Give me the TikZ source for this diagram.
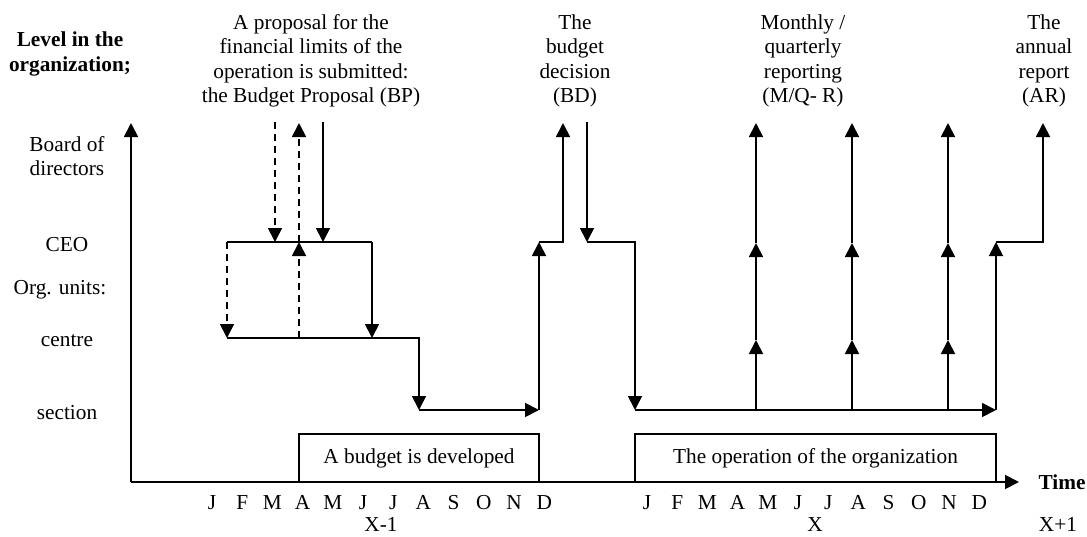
\documentclass[tikz,border=0pt]{standalone}
\usepackage{fontspec}
\setmainfont{Liberation Serif}
\usetikzlibrary{arrows.meta}
\begin{document}
\begin{tikzpicture}[x=1pt,y=-1pt,
  line width=1.8pt,
  tipped/.style={-{Triangle[length=14pt,width=14pt]}},
  flow/.style={draw, tipped},
  dflow/.style={draw, tipped, dash pattern=on 7pt off 5pt},
  plain/.style={draw},
  txt/.style={inner sep=0pt, align=center, font=\fontsize{21.3}{24.5}\selectfont},
  word/.style={inner sep=0pt, font=\fontsize{21.3}{24.5}\selectfont},
  btxt/.style={inner sep=0pt, align=center, font=\fontsize{21.3}{24.5}\selectfont\bfseries},
  phase/.style={draw, inner sep=0pt, font=\fontsize{21.3}{24.5}\selectfont},
]
\useasboundingbox (0,0) rectangle (1087,536);

% ---- axes ----
\coordinate (O)  at (131,482);
\coordinate (yT) at (131,123);
\coordinate (xT) at (1019,482);
\draw[flow] (O) -- (yT);
\draw[flow] (O) -- (xT);

% ---- phases on the time axis ----
\node[phase, minimum width=240pt, minimum height=48pt] (budget) at (419,458) {A budget is developed};
\node[phase, minimum width=361pt, minimum height=48pt] (operation) at (815.5,458) {The operation of the organization};

% ---- left-hand level labels ----
\node[btxt] (level) at (70,54) {Level in the\\organization;};
\node[txt] (board) at (67,156) {Board of\\directors};
\node[word] (ceo) at (67,245) {CEO};
\node[word] (units) at (60,290) {Org. units:};
\node[word] (centre) at (67,341) {centre};
\node[word] (section) at (67,413) {section};

% ---- event labels ----
\node[txt] (bp) at (311,61) {A proposal for the\\financial limits of the\\operation is submitted:\\the Budget Proposal (BP)};
\node[txt] (bd) at (575,61) {The\\budget\\decision\\(BD)};
\node[txt] (mq) at (803,61) {Monthly /\\quarterly\\reporting\\(M/Q- R)};
\node[txt] (ar) at (1044,61) {The\\annual\\report\\(AR)};

% ---- time scale ----
\foreach \m [count=\i from 0] in {J,F,M,A,M,J,J,A,S,O,N,D} {
  \node[word, anchor=base] (ma\i) at (212+30.2*\i,509) {\m};
  \node[word, anchor=base] (mb\i) at (647+30.2*\i,509) {\m};
}
\node[word, anchor=base] (yprev) at (381,531) {X-1};
\node[word, anchor=base] (ycur)  at (815,531) {X};
\node[word, anchor=base] (ynext) at (1058,531) {X+1};
\node[inner sep=0pt, font=\fontsize{21.3}{24.5}\selectfont\bfseries] (time) at (1062,482) {Time};

% ---- budget proposal round ----
\coordinate (p1t) at (275,122);
\coordinate (p1b) at (275,242);
\coordinate (p2c) at (299,338);
\coordinate (p2m) at (299,242);
\coordinate (p2t) at (299,123);
\coordinate (p3t) at (323,122);
\coordinate (p3b) at (323,242);
\coordinate (ceoL) at (227,242);
\coordinate (ceoR) at (372,242);
\coordinate (cenL) at (227,338);
\coordinate (cenR) at (372,338);
\coordinate (cenE) at (419,338);
\coordinate (secA) at (419,410);
\coordinate (secB) at (539,410);
\coordinate (upB)  at (539,242);
\coordinate (upC)  at (563,242);
\coordinate (upT)  at (563,123);

\draw[dflow] (p1t) -- (p1b);
\draw[dflow] (p2c) -- (p2m);
\draw[dflow] (p2m) -- (p2t);
\draw[flow]  (p3t) -- (p3b);
\draw[plain] (ceoL) -- (ceoR);
\draw[dflow] (ceoL) -- (cenL);
\draw[flow]  (ceoR) -- (cenR);
\draw[flow]  (cenL) -- (cenE) -- (secA);
\draw[flow]  (secA) -- (secB);
\draw[flow]  (secB) -- (upB);
\draw[flow]  (upB) -- (upC) -- (upT);

% ---- budget decision and operation ----
\coordinate (dT) at (587,122);
\coordinate (dC) at (587,242);
\coordinate (dR) at (635,242);
\coordinate (oS) at (635,410);
\coordinate (oE) at (996,410);
\coordinate (aC) at (996,242);
\coordinate (aR) at (1043,242);
\coordinate (aT) at (1043,123);

\draw[flow] (dT) -- (dC);
\draw[flow] (dC) -- (dR) -- (oS);
\draw[flow] (oS) -- (oE);
\draw[flow] (oE) -- (aC);
\draw[flow] (aC) -- (aR) -- (aT);

% ---- periodic reporting ----
\foreach \x [count=\k] in {756,852,948} {
  \coordinate (r\k s) at (\x,410);
  \coordinate (r\k c) at (\x,340);
  \coordinate (r\k e) at (\x,243);
  \coordinate (r\k t) at (\x,123);
  \draw[flow] (r\k s) -- (r\k c);
  \draw[flow] (r\k c) -- (r\k e);
  \draw[flow] (r\k e) -- (r\k t);
}
\end{tikzpicture}
\end{document}
